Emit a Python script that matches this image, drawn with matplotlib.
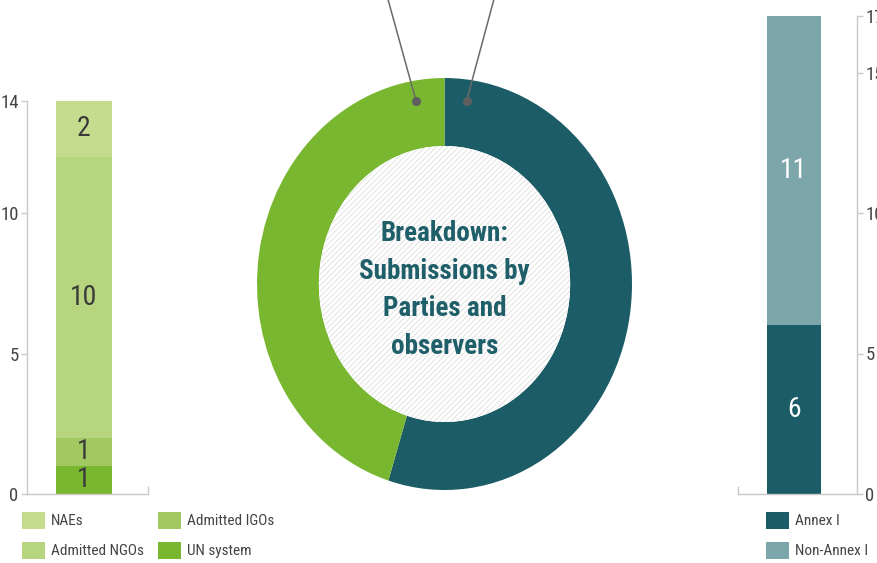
import matplotlib
matplotlib.use("Agg")
import matplotlib.pyplot as plt
from matplotlib.patches import Rectangle, Circle
from matplotlib import font_manager

# ---------------- data ----------------
obs_categories = ["UN system", "Admitted IGOs", "Admitted NGOs", "NAEs"]
obs_values = [1, 1, 10, 2]
obs_colors = ["#78b72f", "#a2c862", "#b7d57f", "#c5db8e"]
obs_ticks = [0, 5, 10, 14]

party_categories = ["Annex I", "Non-Annex I"]
party_values = [6, 11]
party_colors = ["#1b5c66", "#7ca6aa"]
party_ticks = [0, 5, 10, 15, 17]

donut_labels = ["Parties", "Observers"]
donut_values = [sum(party_values), sum(obs_values)]
donut_colors = ["#1b5c66", "#78b72f"]
center_title = "Breakdown:\nSubmissions by\nParties and\nobservers"

# ---------------- fonts ----------------
avail = {f.name for f in font_manager.fontManager.ttflist}
narrow = [f for f in ["Liberation Sans Narrow", "Roboto Condensed", "Open Sans Condensed"] if f in avail]
FAM = narrow + ["Liberation Sans", "DejaVu Sans"]
plt.rcParams["font.family"] = FAM
plt.rcParams["hatch.linewidth"] = 0.6

W, H = 877, 563
fig = plt.figure(figsize=(W / 100, H / 100), dpi=100)
fig.patch.set_facecolor("white")

def fr(x0, y_top, x1, y_bot):
    return [x0 / W, 1 - y_bot / H, (x1 - x0) / W, (y_bot - y_top) / H]

AX_C = "#c9c9c9"
TXT = "#444444"

# ---------------- left stacked bar ----------------
axL = fig.add_axes(fr(27, 100.7, 148, 494))
bottom = 0
for v, c in zip(obs_values, obs_colors):
    axL.bar(0.471, v, width=0.455, bottom=bottom, color=c, linewidth=0)
    axL.text(0.471, bottom + v / 2, str(v), ha="center", va="center",
             fontsize=20, color="#3a3a3a")
    bottom += v
axL.set_xlim(0, 1)
axL.set_ylim(0, 14)
axL.set_xticks([])
axL.set_yticks(obs_ticks)
axL.tick_params(axis="y", colors=AX_C, labelcolor=TXT, labelsize=13.5, length=4, width=1, pad=2)
for s in ["top", "right"]:
    axL.spines[s].set_visible(False)
for s in ["left", "bottom"]:
    axL.spines[s].set_color(AX_C)
    axL.spines[s].set_linewidth(1)
axL.plot([1, 1], [0, 0.25], color=AX_C, lw=1, clip_on=False)

# ---------------- right stacked bar ----------------
axR = fig.add_axes(fr(738, 494 - 17 * 28.1, 857, 494))
bottom = 0
for v, c in zip(party_values, party_colors):
    axR.bar(0.47, v, width=0.46, bottom=bottom, color=c, linewidth=0)
    axR.text(0.47, bottom + v / 2, str(v), ha="center", va="center",
             fontsize=20, color="white")
    bottom += v
axR.set_xlim(0, 1)
axR.set_ylim(0, 17)
axR.set_xticks([])
axR.yaxis.tick_right()
axR.set_yticks(party_ticks)
axR.tick_params(axis="y", colors=AX_C, labelcolor=TXT, labelsize=13.5, length=4, width=1, pad=2)
for s in ["top", "left"]:
    axR.spines[s].set_visible(False)
for s in ["right", "bottom"]:
    axR.spines[s].set_color(AX_C)
    axR.spines[s].set_linewidth(1)
axR.plot([0, 0], [0, 0.25], color=AX_C, lw=1, clip_on=False)

# ---------------- donut ----------------
axD = fig.add_axes(fr(257, 78, 632, 490))
wedges, _ = axD.pie(donut_values, colors=donut_colors, startangle=90, counterclock=False,
                    radius=1, wedgeprops=dict(width=0.33, linewidth=0))
axD.set_aspect("auto")
axD.set_xlim(-1, 1)
axD.set_ylim(-1, 1)
axD.axis("off")
inner = Circle((0, 0), 0.67, facecolor="white", edgecolor="#dedede", hatch="//////", linewidth=0)
axD.add_patch(inner)
axD.text(0, -0.03, center_title, ha="center", va="center", fontsize=19.5, fontweight="bold",
         color="#1f5f69", linespacing=1.5)
# callout leaders (labels lie outside the visible frame)
for (dx, dy), (ex, ey) in [((-0.152, 0.89), (-0.307, 1.40)), ((0.118, 0.89), (0.269, 1.40))]:
    axD.plot([dx, ex], [dy, ey], color="#6a6a6a", lw=1.1, clip_on=False, zorder=5)
    axD.plot([dx], [dy], "o", color="#5f5f5f", ms=5.5, zorder=6, clip_on=False)

# ---------------- legends ----------------
def legend_item(x, y, color, label):
    fig.add_artist(Rectangle((x / W, 1 - (y + 17) / H), 23 / W, 17 / H,
                             transform=fig.transFigure, facecolor=color, edgecolor="none"))
    fig.text((x + 29) / W, 1 - (y + 9) / H, label, ha="left", va="center",
             fontsize=11, color=TXT)

legend_item(22, 512, obs_colors[3], obs_categories[3])
legend_item(22, 542, obs_colors[2], obs_categories[2])
legend_item(158, 512, obs_colors[1], obs_categories[1])
legend_item(158, 542, obs_colors[0], obs_categories[0])
legend_item(766, 512, party_colors[0], party_categories[0])
legend_item(766, 542, party_colors[1], party_categories[1])

fig.savefig("out.png", dpi=100, facecolor="white")
